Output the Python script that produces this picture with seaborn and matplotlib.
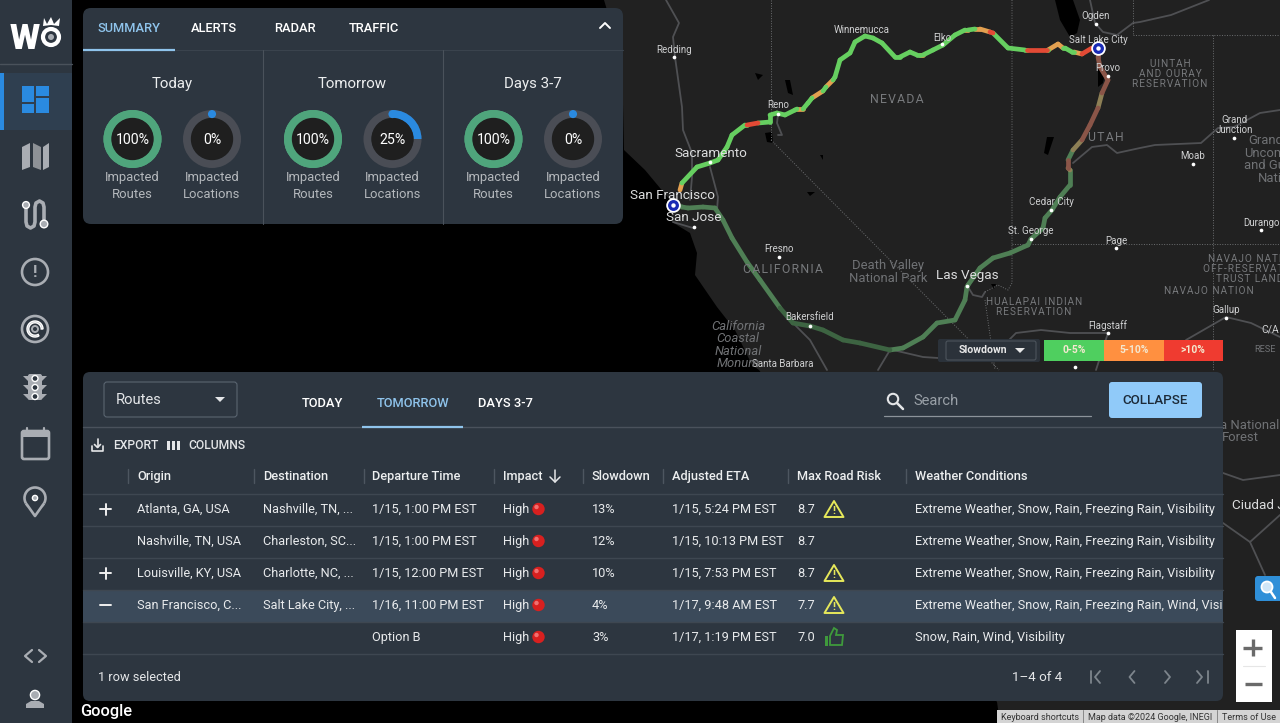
"""Route weather dashboard: map with slowdown routes, summary donuts and route table."""

import matplotlib
matplotlib.use("Agg")
import matplotlib.pyplot as plt
import pandas as pd
import seaborn as sns
from matplotlib.patches import Circle, FancyBboxPatch, Polygon, Rectangle, Wedge

W, H = 1280, 723

# summary donuts
PERIODS = ["Today", "Tomorrow", "Days 3-7"]
ROUTES_PCT = [100, 100, 100]
LOCATIONS_PCT = [0, 25, 0]

# table
HEADERS = ["Origin", "Destination", "Departure Time", "Impact", "Slowdown", "Adjusted ETA",
           "Max Road Risk", "Weather Conditions"]
ORIGINS = ["Atlanta, GA, USA", "Nashville, TN, USA", "Louisville, KY, USA", "San Francisco, C...", ""]
DESTINATIONS = ["Nashville, TN, ...", "Charleston, SC...", "Charlotte, NC, ...", "Salt Lake City, ...", ""]
DEPARTURES = ["1/15, 1:00 PM EST", "1/15, 1:00 PM EST", "1/15, 12:00 PM EST", "1/16, 11:00 PM EST", "Option B"]
IMPACTS = ["High", "High", "High", "High", "High"]
SLOWDOWNS = ["13%", "12%", "10%", "4%", "3%"]
ETAS = ["1/15, 5:24 PM EST", "1/15, 10:13 PM EST", "1/15, 7:53 PM EST", "1/17, 9:48 AM EST", "1/17, 1:19 PM EST"]
RISKS = ["8.7", "8.7", "8.7", "7.7", "7.0"]
RISK_ICONS = ["warn", "", "warn", "warn", "ok"]
WEATHER = ["Extreme Weather, Snow, Rain, Freezing Rain, Visibility"] * 3 + [
    "Extreme Weather, Snow, Rain, Freezing Rain, Wind, Visibility",
    "Snow, Rain, Wind, Visibility",
]
ROW_MARKS = ["+", "", "+", "-", ""]

# routes; class i applies to the piece from point i to point i+1
NORTH_X = [680, 682, 697, 710, 718, 727, 732, 745, 747, 758, 770, 770, 777, 785, 795, 797, 803, 808, 812, 823, 826,
           833, 835, 840, 850, 855, 865, 873, 882, 895, 900, 910, 917, 920, 923, 933, 943, 955, 965, 968, 975, 980,
           990, 993, 1008, 1025, 1027, 1047, 1048, 1058, 1063, 1065, 1072, 1074, 1082, 1092, 1098]
NORTH_Y = [190, 183, 167, 163, 160, 147, 135, 125, 125, 123, 122, 115, 113, 115, 110, 109, 109, 103, 98, 91, 87,
           80, 77, 60, 53, 42, 36, 38, 43, 57, 57, 52, 55, 55, 55, 50, 45, 35, 30, 30, 29, 29,
           32, 33, 48, 50, 50, 50, 50, 44, 48, 48, 52, 52, 54, 48, 48]
NORTH_CLASS = ["mid", "low", "low", "low", "low", "low", "low", "low", "high", "low", "low", "low", "low", "low",
               "low", "mid", "low", "low", "mid", "low", "mid", "low", "low", "low", "low", "low", "low", "low", "low",
               "low", "low", "low", "low", "mid", "low", "low", "low", "low", "mid", "low", "mid", "mid", "high",
               "low", "low", "low", "high", "low", "mid", "mid", "low", "low", "low", "mid", "high", "high"]
SOUTH_X = [673, 682, 688, 703, 715, 723, 732, 747, 760, 780, 793, 810, 823, 843, 860, 890, 903, 923, 937, 955, 965,
           967, 968, 980, 993, 1010, 1028, 1031, 1043, 1045, 1052, 1060, 1070, 1070, 1068, 1068, 1073, 1082, 1090,
           1098, 1102, 1108, 1100, 1098, 1098]
SOUTH_Y = [205, 207, 208, 207, 208, 220, 238, 262, 280, 308, 323, 326, 330, 340, 343, 350, 348, 337, 323, 320, 300,
           287, 285, 268, 258, 253, 245, 239, 228, 218, 210, 197, 185, 170, 168, 160, 150, 140, 125,
           108, 93, 80, 67, 57, 48]
SOUTH_CLASS = ["low"] * 9 + ["dark"] * 6 + ["low"] * 18 + ["mid", "high", "low", "mid", "high", "high", "mid"] + [
    "high"] * 4

# land and water
COAST_X = [604, 622, 624, 645, 670, 672, 690, 697, 695, 717, 735, 752, 759, 997, 1000, 1280, 1280]
COAST_Y = [0, 60, 150, 170, 200, 222, 233, 253, 275, 307, 330, 365, 370, 702, 723, 723, 0]
LAKE_X = [1055, 1073, 1080, 1077, 1070, 1060, 1098, 1105, 1103, 1098, 1047, 1054, 1048, 1044, 765, 772, 773, 767,
          785, 790, 793, 788, 755, 763, 758, 820, 823, 823, 807, 815, 810, 991, 996, 994]
LAKE_Y = [0, 0, 20, 33, 37, 20, 68, 73, 83, 87, 137, 137, 155, 153, 133, 132, 143, 142,
          80, 80, 95, 93, 73, 75, 80, 155, 155, 160, 192, 192, 196, 284, 284, 289]
LAKE_ID = [0] * 6 + [1] * 4 + [2] * 4 + [3] * 4 + [4] * 4 + [5] * 3 + [6] * 3 + [7] * 3 + [8] * 3

ROADS = [
    ([666, 679, 673, 675, 682, 683, 692, 692, 690], [0, 23, 37, 57, 107, 130, 153, 177, 200]),
    ([710, 718, 717], [167, 197, 210]),
    ([1073, 1092, 1107, 1117, 1140, 1155, 1201, 1218, 1234, 1260, 1280],
     [163, 147, 145, 153, 148, 145, 143, 128, 127, 113, 110]),
    ([1090, 1095, 1103, 1117, 1133, 1140, 1171, 1209], [0, 23, 32, 35, 23, 22, 15, 0]),
    ([793, 810, 827], [323, 340, 370]),
    ([890, 878], [350, 370]),
    ([893, 923, 938], [350, 357, 358]),
    ([1009, 1016, 1041, 1070, 1108, 1096], [340, 333, 330, 333, 333, 370]),
    ([1186, 1226, 1251, 1280], [340, 317, 323, 337]),
    ([968, 973, 982, 985], [287, 295, 297, 292]),
    ([778, 777, 782, 778], [115, 123, 135, 135]),
    ([673, 693], [222, 228]),
    ([1223, 1243, 1280], [473, 480, 475]),
    ([1223, 1250, 1280], [523, 542, 515]),
    ([1250, 1265], [542, 575]),
]
BORDERS = [
    ([771, 771], [0, 140]),
    ([771, 999], [140, 370]),
    ([1012, 1012, 1008, 998, 985], [0, 283, 290, 285, 292]),
    ([985, 995], [300, 370]),
    ([1012, 1280], [244, 244]),
    ([1213, 1213], [35, 370]),
    ([1133, 1280], [35, 35]),
    ([1133, 1133], [0, 35]),
]

# name, x, y, size, colour kind
MAP_LABELS = [
    ("Ogden", 1096, 16, 7, "city"), ("Salt Lake City", 1098, 40, 7, "city"), ("Provo", 1108, 68, 7, "city"),
    ("Reno", 778, 105, 7, "city"), ("Winnemucca", 862, 30, 7, "city"), ("Elko", 942, 38, 7, "city"),
    ("Redding", 674, 50, 7, "city"), ("Sacramento", 711, 153, 9.7, "big"), ("San Francisco", 673, 195, 9.7, "big"),
    ("San Jose", 694, 217, 9.7, "big"), ("Fresno", 779, 249, 7, "city"), ("Las Vegas", 967, 275, 9.7, "big"),
    ("Bakersfield", 810, 317, 7, "city"), ("Santa Barbara", 783, 364, 7, "city"),
    ("Cedar City", 1051, 202, 7, "city"), ("St. George", 1031, 231, 7, "city"), ("Page", 1116, 241, 7, "city"),
    ("Moab", 1193, 156, 7, "city"), ("Grand", 1234, 120, 7, "city"), ("Junction", 1234, 130, 7, "city"),
    ("Durango", 1261, 223, 7, "city"), ("Gallup", 1226, 310, 7, "city"), ("Flagstaff", 1108, 326, 7, "city"),
    ("Death Valley", 888, 265, 9.4, "park"), ("National Park", 888, 278, 9.4, "park"),
    ("Grand", 1266, 140, 9.4, "park"), ("Uncom", 1265, 153, 9.4, "park"), ("and Gu", 1265, 165, 9.4, "park"),
    ("Nati", 1270, 178, 9.4, "park"), ("a National", 1250, 425, 9.4, "park"), ("Forest", 1240, 437, 9.4, "park"),
    ("Ciudad J", 1258, 505, 9.7, "big"), ("C/A", 1270, 330, 7.5, "city"), ("RESE", 1265, 349, 6.6, "park"),
]
AREA_LABELS = [
    ("NEVADA", 897, 99, 8.8), ("UTAH", 1106, 137, 8.8), ("CALIFORNIA", 783, 269, 8.8),
    ("UINTAH", 1170, 64, 7.2), ("AND OURAY", 1170, 74, 7.2), ("RESERVATION", 1170, 84, 7.2),
    ("HUALAPAI INDIAN", 1034, 302, 7.2), ("RESERVATION", 1034, 312, 7.2), ("NAVAJO NATION", 1209, 291, 7.2),
    ("NAVAJO NATI", 1245, 259, 7.2), ("OFF-RESERVAT", 1243, 269, 7.2), ("TRUST LAND", 1250, 279, 7.2),
]
MAP_DOTS_X = [1096, 1108, 778, 942, 674, 710, 694, 779, 967, 810, 1051, 1031, 1116, 1193, 1234, 1261, 1226, 1108, 1075]
MAP_DOTS_Y = [24, 76, 114, 44, 57, 162, 227, 257, 286, 326, 210, 239, 248, 164, 138, 230, 318, 333, 367]
ITALIC_LABELS = ["California", "Coastal", "National", "Monum"]
ITALIC_Y = [326, 338, 351, 363]

BG_PANEL = "#2d3640"
SEL_BLUE = "#8fc4ec"
ICON = "#a9adb3"

sns.set_theme(style="white")
plt.rcParams["font.family"] = ["Roboto", "DejaVu Sans"]

fig = plt.figure(figsize=(W / 100, H / 100), dpi=100, facecolor="black")

# map layer
ax_map = fig.add_axes([0, 0, 1, 1], zorder=1)
ax_map.fill(COAST_X, COAST_Y, color="#212121", lw=0, zorder=0)

lakes = pd.DataFrame({"x": LAKE_X, "y": LAKE_Y, "id": LAKE_ID})
for _, lake in lakes.groupby("id"):
    ax_map.fill(lake["x"], lake["y"], color="black", lw=0, zorder=1)


def pieces(paths):
    rows = []
    for i, (xs, ys) in enumerate(paths):
        rows += [{"x": a, "y": b, "path": i} for a, b in zip(xs, ys)]
    return pd.DataFrame(rows)


sns.lineplot(data=pieces(ROADS), x="x", y="y", units="path", estimator=None, sort=False, color="#4f5053",
             lw=1.3, legend=False, ax=ax_map, zorder=2)
sns.lineplot(data=pieces(BORDERS), x="x", y="y", units="path", estimator=None, sort=False, color="#6c6e70",
             lw=0.7, ls=(0, (1, 1.6)), legend=False, ax=ax_map, zorder=2)


def route_frame(xs, ys, classes, prefix):
    rows = []
    for i, cls in enumerate(classes):
        for j in (i, i + 1):
            rows.append({"x": xs[j], "y": ys[j], "seg": f"{prefix}{i}", "cls": prefix + cls})
    return pd.DataFrame(rows)


ROUTE_COLORS = {"low": "#66cf60", "mid": "#e3a050", "high": "#e34a35",
                "dim_low": "#4f7f55", "dim_dark": "#3d6442", "dim_mid": "#8d7f55", "dim_high": "#8a5548"}
routes = pd.concat([route_frame(SOUTH_X, SOUTH_Y, SOUTH_CLASS, "dim_"), route_frame(NORTH_X, NORTH_Y, NORTH_CLASS, "")])
sns.lineplot(data=routes, x="x", y="y", units="seg", hue="cls", palette=ROUTE_COLORS, estimator=None, sort=False,
             lw=3.4, legend=False, solid_capstyle="round", ax=ax_map, zorder=3)
ax_map.set_xlim(0, W)
ax_map.set_ylim(H, 0)
ax_map.axis("off")

# interface layer, in pixels of the picture
ax = fig.add_axes([0, 0, 1, 1], zorder=2)
ax.set_xlim(0, W)
ax.set_ylim(H, 0)
ax.axis("off")
ax.patch.set_alpha(0)


def txt(x, y, s, size=9.2, color="white", ha="left", weight="normal", z=8, **kw):
    # y is the middle of the capitals, so digits and letters share one baseline
    return ax.text(x, y - 0.7 + size * 100 / 72 * 0.355, s, fontsize=size, color=color, ha=ha, va="baseline",
                   fontweight=weight, zorder=z, **kw)


def box(x0, y0, x1, y1, fc, r=0, ec="none", lw=0, z=5):
    if r:
        p = FancyBboxPatch((x0, y0), x1 - x0, y1 - y0, boxstyle=f"round,pad=0,rounding_size={r}", fc=fc, ec=ec,
                           lw=lw, zorder=z)
    else:
        p = Rectangle((x0, y0), x1 - x0, y1 - y0, fc=fc, ec=ec, lw=lw, zorder=z)
    ax.add_patch(p)
    return p


def seg(xs, ys, color=ICON, lw=1.5, z=8, **kw):
    ax.plot(xs, ys, color=color, lw=lw, zorder=z, solid_capstyle=kw.pop("cap", "round"), **kw)


def poly(points, fc=ICON, z=8):
    ax.add_patch(Polygon(points, closed=True, fc=fc, ec="none", zorder=z))


# map labels
LABEL_COLORS = {"city": "#cfd0d1", "big": "#dcddde", "park": "#707275"}
for name, x, y, size, kind in MAP_LABELS:
    txt(x, y, name, size=size, color=LABEL_COLORS[kind], ha="center", z=2)
for name, x, y, size in AREA_LABELS:
    txt(x, y, "\u200a".join(name), size=size, color="#77797c", ha="center", z=2)
for name, y in zip(ITALIC_LABELS, ITALIC_Y):
    txt(738, y, name, size=9.4, color="#707275", ha="center", z=2, style="italic")
ax.scatter(MAP_DOTS_X, MAP_DOTS_Y, s=7, color="white", lw=0, zorder=2)
for x, y in [(673, 205), (1098, 48)]:
    ax.scatter([x], [y], s=110, color="white", lw=0, zorder=3)
    ax.scatter([x], [y], s=62, color="#1a2bb5", lw=0, zorder=3)
    ax.scatter([x], [y], s=10, color="white", lw=0, zorder=3)

# slowdown legend
box(938, 339, 1040, 362, "#2b323a", r=2, z=4)
box(946, 341, 1036, 360, "#2b323a", r=2, ec="#4c545c", lw=0.8)
txt(983, 350, "Slowdown", size=7.6, weight="bold", color="#e8e8e8", ha="center")
poly([(1015, 348), (1025, 348), (1020, 353)], fc="#e8e8e8")
box(1044, 340, 1104, 361, "#4fcf5f")
box(1104, 340, 1164, 361, "#ff9040")
box(1164, 340, 1223, 361, "#ef3b30")
for x, s in zip([1074, 1134, 1193], ["0-5%", "5-10%", ">10%"]):
    txt(x, 350.5, s, size=7.4, weight="bold", color="#f4e8d0", ha="center")

# sidebar
box(0, 0, 72, H, BG_PANEL, z=4)
seg([0, 72], [63.5, 63.5], color="#4a525b", lw=1, z=5)
box(0, 73, 72, 130, "#2f3f50", z=5)
box(0, 73, 4, 130, "#2a8ae0", z=6)
for x0, y0, x1, y1 in [(22, 86, 34, 102), (22, 104, 34, 113), (36, 86, 49, 96), (36, 98, 49, 113)]:
    box(x0, y0, x1, y1, "#2a8ae0", z=7)
txt(24.5, 37, "W", size=25, weight="black", ha="center")
ax.add_patch(Circle((51, 37), 8, fc="none", ec="white", lw=3, zorder=8))
ax.add_patch(Circle((51, 37), 3, fc=ICON, ec="none", zorder=8))
poly([(43, 26), (44, 18), (47, 24), (51, 17), (54, 24), (60, 18), (59, 26), (51, 25)], fc="white")
poly([(22, 147), (30, 143), (30, 167), (22, 170)])
poly([(33, 143), (41, 147), (41, 170), (33, 167)], fc="#8d9196")
poly([(43, 147), (49, 143), (49, 167), (43, 170)])
seg([26, 26, 27, 30.5, 34, 35, 35, 36, 39.5, 43, 44, 44],
    [207, 222, 226, 228, 226, 222, 207, 203, 201, 203, 207, 222], lw=2.6)
ax.add_patch(Circle((26, 205), 3.4, fc=ICON, zorder=8))
ax.add_patch(Circle((44, 224), 3.8, fc=ICON, zorder=8))
ax.add_patch(Circle((35, 272), 13, fc="none", ec=ICON, lw=1.9, zorder=8))
txt(35, 272, "!", size=12, color=ICON, ha="center", weight="bold")
ax.add_patch(Circle((35, 329), 13, fc="none", ec=ICON, lw=1.9, zorder=8))
ax.add_patch(Wedge((35, 329), 8, 60, 0, width=1.8, fc=ICON, zorder=8))
ax.add_patch(Circle((35, 329), 3, fc="none", ec=ICON, lw=1.4, zorder=8))
box(28, 374, 42, 400, ICON, r=2, z=8)
for y in [376, 385, 394]:
    poly([(23, y), (29, y), (29, y + 6)])
    poly([(47, y), (41, y), (41, y + 6)])
    ax.add_patch(Circle((35, y + 2.5), 3, fc=BG_PANEL, zorder=9))
box(22, 431, 49, 459, "none", r=2, ec=ICON, lw=1.9, z=8)
box(22, 431, 49, 437, ICON, z=8)
seg([27, 27], [428, 433], lw=1.6)
seg([44, 44], [428, 433], lw=1.6)
ax.add_patch(Circle((35, 498), 10.5, fc="none", ec=ICON, lw=1.9, zorder=8))
poly([(25, 503), (45, 503), (35, 517)], fc=BG_PANEL)
seg([26.5, 35, 43.5], [504, 516, 504], lw=1.9)
ax.add_patch(Circle((35, 498), 2.6, fc=ICON, zorder=8))
seg([32, 25, 32], [650, 656, 662], lw=1.6)
seg([39, 46, 39], [650, 656, 662], lw=1.6)
ax.add_patch(Circle((35, 695), 4.6, fc=ICON, zorder=8))
poly([(26, 708), (26, 704), (31, 701), (39, 701), (44, 704), (44, 708)])

# top panel
box(83, 8, 623, 224, BG_PANEL, r=8)
for x, s, c in [(97, "SUMMARY", SEL_BLUE), (191, "ALERTS", "white"), (274, "RADAR", "white"), (349, "TRAFFIC", "white")]:
    txt(x, 28.5, s, size=9.3, color=c, weight=500)
seg([83, 623], [49.5, 49.5], color="#3a434d", lw=0.8)
seg([83, 175], [49.5, 49.5], color=SEL_BLUE, lw=1.6, cap="butt")
seg([600, 605, 610], [28, 23, 28], color="white", lw=1.4)
for x in [263, 443]:
    seg([x, x], [50, 224], color="#4a525b", lw=0.8)


def donut(cx, cy, value, track, color, radius=29):
    """Ring drawn as a pie on its own small axes."""
    a = fig.add_axes([(cx - radius) / W, 1 - (cy + radius) / H, 2 * radius / W, 2 * radius / H], zorder=3)
    a.pie([100], colors=[track], radius=1, startangle=90, wedgeprops={"width": 0.28, "lw": 0})
    if value:
        a.pie([value, 100 - value], colors=[color, "none"], radius=1, startangle=90, counterclock=False,
              wedgeprops={"width": 0.28, "lw": 0})
    a.add_patch(Circle((0, 0), 0.73, fc="#1f1f1f", ec="none"))
    a.set_xlim(-1, 1)
    a.set_ylim(-1, 1)
    a.patch.set_alpha(0)
    a.axis("off")
    if value < 100:
        a.add_patch(Circle((0, 0.86), 0.14, fc=color, ec="none", zorder=5))
    a.text(0, 0, f"{value}%", color="white", fontsize=10.2, ha="center", va="center_baseline")


GROUP_X = [172, 352.5, 533]
for i, period in enumerate(PERIODS):
    gx = GROUP_X[i]
    txt(gx, 83.5, period, size=10.8, color="#eceeef", ha="center")
    donut(gx - 39.5, 139, ROUTES_PCT[i], "#4fa57c", "#4fa57c")
    donut(gx + 40, 139, LOCATIONS_PCT[i], "#4a4d55", "#2a8ae0")
    for x, l2 in [(gx - 39.5, "Routes"), (gx + 40, "Locations")]:
        txt(x, 177, "Impacted", size=9.4, color="#b4b8bc", ha="center")
        txt(x, 194.5, l2, size=9.4, color="#b4b8bc", ha="center")

# bottom panel
box(83, 372, 1223, 701, BG_PANEL, r=7)
box(104, 382, 237, 417, "none", r=3, ec="#5a6570", lw=0.8, z=7)
txt(116, 399.5, "Routes", size=10.6, color="#e4e6e8")
poly([(215, 397), (225, 397), (220, 402)], fc="#e4e6e8")
for x, s, c in [(322, "TODAY", "white"), (413, "TOMORROW", SEL_BLUE), (505, "DAYS 3-7", "white")]:
    txt(x, 403, s, size=9.3, color=c, ha="center", weight=500)
seg([83, 1223], [427, 427], color="#4a525c", lw=1)
seg([362, 463], [426.5, 426.5], color=SEL_BLUE, lw=1.6, cap="butt")
ax.add_patch(Circle((893, 399), 5.2, fc="none", ec="#e4e6e8", lw=1.5, zorder=8))
seg([897, 903], [403, 409], color="#e4e6e8", lw=1.8)
txt(913, 400, "Search", size=10.6, color="#9aa1a8")
seg([884, 1091], [415.5, 415.5], color="#8c939a", lw=0.9)
box(1109, 382, 1202, 418, "#90caf9", r=3)
txt(1155.5, 399.5, "COLLAPSE", size=9.6, color="#1c2a38", ha="center", weight=500)

seg([92, 92, 103, 103], [446, 451, 451, 446], color="#e4e6e8", lw=1.2)
seg([97.5, 97.5], [439, 447], color="#e4e6e8", lw=1.2)
seg([94.5, 97.5, 100.5], [444.5, 447.5, 444.5], color="#e4e6e8", lw=1.2)
txt(113, 445, "EXPORT", size=8.7, color="#e4e6e8", weight=500)
for x in [167, 172, 177]:
    box(x, 441, x + 3.4, 450, "#e4e6e8", z=8)
txt(188, 445, "COLUMNS", size=8.7, color="#e4e6e8", weight=500)

COL_X = [137, 263, 372.5, 503, 592, 672, 797, 915]
for x, h in zip(COL_X, HEADERS):
    txt(x, 476, h, size=9.2, color="#eceeef", weight=500)
    seg([x - 9, x - 9], [469, 483], color="#4d5660", lw=1)
seg([550, 555, 560], [477, 482, 477], color="#e4e6e8", lw=1.1)
seg([555, 555], [470, 482], color="#e4e6e8", lw=1.1)

box(83, 590, 1223, 621.5, "#3b4a5a", z=6)
for y in [493.5, 525.5, 557.5, 589.5, 621.5, 654]:
    seg([83, 1223], [y, y], color="#3e4751", lw=1, z=6)

for i, y in enumerate([509, 541, 573, 605, 637]):
    color = "#e8eaec"
    if ROW_MARKS[i]:
        seg([100, 111], [y, y], color="#f0f0f0", lw=1.4)
        if ROW_MARKS[i] == "+":
            seg([105.5, 105.5], [y - 5.5, y + 5.5], color="#f0f0f0", lw=1.4)
    txt(COL_X[0], y, ORIGINS[i], color=color)
    txt(COL_X[1], y, DESTINATIONS[i], color=color)
    txt(COL_X[2], y, DEPARTURES[i], color=color)
    txt(COL_X[3], y, IMPACTS[i], color=color)
    ax.add_patch(Circle((538.5, y), 6.2, fc="#d8201f", ec="none", zorder=8))
    ax.add_patch(Circle((536.5, y - 2), 2.2, fc="#f07070", ec="none", zorder=9))
    txt(COL_X[4], y, SLOWDOWNS[i], color=color)
    txt(COL_X[5], y, ETAS[i], color=color)
    txt(COL_X[6], y, RISKS[i], color=color)
    if RISK_ICONS[i] == "warn":
        ax.add_patch(Polygon([(834, y - 8), (843.5, y + 8), (824.5, y + 8)], closed=True, fc="none", ec="#e6e85a",
                             lw=1.4, joinstyle="round", zorder=8))
        txt(834, y + 2, "!", size=8, color="#e6e85a", ha="center", weight="bold")
    elif RISK_ICONS[i] == "ok":
        box(824.5, y - 1, 828, y + 9, "#3f9a3c", z=8)
        ax.add_patch(Polygon([(830, y - 1), (834, y - 9), (837, y - 7), (836, y - 2), (843, y - 2), (842, y + 8),
                              (830, y + 8)], closed=True, fc="none", ec="#3f9a3c", lw=1.3, zorder=8))
    t = txt(COL_X[7], y, WEATHER[i], color=color)
    t.set_clip_path(Rectangle((900, y - 14), 323, 28, transform=ax.transData))
    t.set_clip_on(True)

txt(98, 677, "1 row selected", size=9.2, color="#e4e6e8")
txt(1012, 677, "1–4 of 4", size=9.6, color="#e4e6e8")
PAGER = "#7d858c"
seg([1100, 1095, 1100], [671, 677, 683], color=PAGER, lw=1.3)
seg([1090.5, 1090.5], [671, 683], color=PAGER, lw=1.3)
seg([1134.5, 1129.5, 1134.5], [671, 677, 683], color=PAGER, lw=1.3)
seg([1165, 1170, 1165], [671, 677, 683], color=PAGER, lw=1.3)
seg([1197, 1202, 1197], [671, 677, 683], color=PAGER, lw=1.3)
seg([1208, 1208], [671, 683], color=PAGER, lw=1.3)

# map controls and attribution
box(1255, 576, 1290, 601, "#2f8fd8", r=3, z=4)
ax.add_patch(Circle((1267, 587), 5.5, fc="#cfe6f7", ec="white", lw=1.3, zorder=5))
seg([1271, 1275], [592, 598], color="white", lw=1.8, z=5)
box(1236, 630, 1272, 702, "white", z=4)
seg([1243, 1262], [647.5, 647.5], color="#6a6a6a", lw=2.4, z=5, cap="butt")
seg([1253, 1253], [639, 656], color="#6a6a6a", lw=2.4, z=5, cap="butt")
seg([1243, 1265], [666, 666], color="#e6e6e6", lw=0.8, z=5)
seg([1245, 1262], [684, 684], color="#6a6a6a", lw=2.4, z=5, cap="butt")
box(997, 710, 1280, 723, "#d4d4d4", z=4)
seg([1083, 1083], [710, 723], color="#888888", lw=0.7, z=5)
seg([1217, 1217], [710, 723], color="#888888", lw=0.7, z=5)
for x, s in [(1001, "Keyboard shortcuts"), (1088, "Map data ©2024 Google, INEGI"), (1222, "Terms of Use")]:
    txt(x, 717, s, size=6.5, color="#333333", z=5)
txt(80, 711, "Google", size=11.8, color="white", z=5, weight=500)

fig.savefig("out.png", dpi=100, facecolor="black")
